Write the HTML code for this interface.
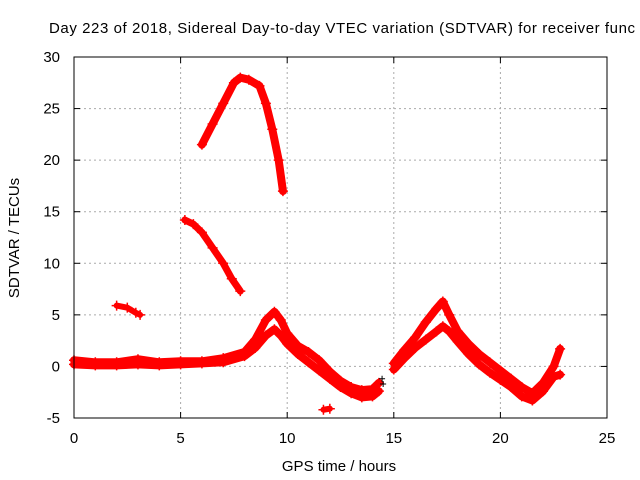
<!DOCTYPE html>
<html><head><meta charset="utf-8"><style>
body{margin:0;background:#fff;overflow:hidden}
svg{display:block;font-family:"Liberation Sans",sans-serif}
</style></head><body>
<svg id="chart" width="640" height="480">
<text x="49" y="33" font-size="15" textLength="586" lengthAdjust="spacing">Day 223 of 2018, Sidereal Day-to-day VTEC variation (SDTVAR) for receiver func</text>
<g id="grid"></g>
<g id="ticks"></g>
<g id="series"></g>
<rect x="74" y="57" width="533" height="361" fill="none" stroke="#000"/>
<text x="339" y="471" font-size="15" text-anchor="middle">GPS time / hours</text>
<text transform="translate(19,238) rotate(-90)" font-size="15" text-anchor="middle">SDTVAR / TECUs</text>
</svg>
<script>
const xTicks=[0,5,10,15,20,25];
const yTicks=[-5,0,5,10,15,20,25,30];
const upperArc=[[6.0,21.5],[6.5,23.5],[7.0,25.5],[7.5,27.5],[7.8,28.0],[8.2,27.8],[8.7,27.2],[9.0,25.5],[9.3,23],[9.6,20],[9.8,17]];
const middleArc=[[5.2,14.2],[5.6,13.8],[6.0,13],[6.5,11.5],[7.0,10],[7.4,8.5],[7.8,7.3]];
const smallSeg=[[2.0,5.9],[2.5,5.7],[2.9,5.2],[3.1,5.0]];
const mainA=[[0,0.6],[1,0.4],[2,0.4],[3,0.7],[4,0.4],[5,0.5],[6,0.5],[7,0.8],[8,1.4],[8.5,2.6],[9,4.5],[9.4,5.3],[9.7,4.5],[10,3.2],[10.5,2.0],[11,1.4],[11.5,0.6],[12,-0.5],[12.5,-1.4],[13,-2.0],[13.5,-2.3],[14,-2.2],[14.3,-1.6]];
const mainB=[[0,0.2],[1,0.1],[2,0.1],[3,0.2],[4,0.1],[5,0.2],[6,0.3],[7,0.4],[8,1.0],[8.5,1.8],[9,3.0],[9.4,3.6],[9.7,3.0],[10,2.2],[10.5,1.2],[11,0.4],[11.5,-0.4],[12,-1.2],[12.5,-2.0],[13,-2.6],[13.5,-3.0],[14,-2.9],[14.3,-2.4]];
const tinySeg=[[11.7,-4.2],[12.0,-4.1]];
const afternoonA=[[15,0.3],[15.5,1.6],[16,2.8],[16.5,4.3],[17,5.6],[17.3,6.3],[17.6,5.0],[18,3.4],[18.5,2.2],[19,1.2],[19.5,0.4],[20,-0.4],[20.5,-1.2],[21,-2.0],[21.5,-2.6],[22,-1.6],[22.5,0],[22.8,1.7]];
const afternoonB=[[15,-0.3],[15.5,0.8],[16,1.8],[16.5,2.6],[17,3.4],[17.3,3.9],[17.6,3.4],[18,2.4],[18.5,1.2],[19,0.2],[19.5,-0.6],[20,-1.3],[20.5,-2.0],[21,-2.9],[21.5,-3.3],[22,-2.4],[22.5,-1.0],[22.8,-0.8]];
const blackMark=[[14.45,-1.2],[14.5,-1.7]];

const NS="http://www.w3.org/2000/svg";
const X=v=>74+v*(533/25);
const Y=v=>418-(v+5)*(361/35);
const grid=document.getElementById('grid'),ticks=document.getElementById('ticks'),ser=document.getElementById('series');
function mk(t,a,p){const e=document.createElementNS(NS,t);for(const k in a)e.setAttribute(k,a[k]);p.appendChild(e);return e;}
xTicks.forEach(v=>{
  if(v>0&&v<25){const g=mk('line',{x1:X(v),x2:X(v),y1:57,y2:418,stroke:'#aaa','stroke-dasharray':'2,3'},grid);
  
  }
  const t=mk('text',{x:X(v),y:443,'font-size':15,'text-anchor':'middle'},ticks);t.textContent=v;
  
  
  mk('line',{x1:X(v),x2:X(v),y1:418,y2:412,stroke:'#000'},ticks);
  mk('line',{x1:X(v),x2:X(v),y1:57,y2:63,stroke:'#000'},ticks);
});
yTicks.forEach(v=>{
  if(v>-5&&v<30){const g=mk('line',{x1:74,x2:607,y1:Y(v),y2:Y(v),stroke:'#aaa','stroke-dasharray':'2,3'},grid);
  
  }
  const t=mk('text',{x:60,y:Y(v)+5,'font-size':15,'text-anchor':'end'},ticks);t.textContent=v;
  
  
  mk('line',{x1:74,x2:80,y1:Y(v),y2:Y(v),stroke:'#000'},ticks);
  mk('line',{x1:607,x2:601,y1:Y(v),y2:Y(v),stroke:'#000'},ticks);
});
function draw(arr,name,w,col){
  const pts=arr.map(p=>X(p[0])+','+Y(p[1])).join(' ');
  const pl=mk('polyline',{points:pts,fill:'none',stroke:col,'stroke-width':w,'stroke-linejoin':'round','stroke-linecap':'round'},ser);
  
  
  arr.forEach(p=>{
    const x=X(p[0]),y=Y(p[1]);
    mk('path',{d:`M${x-5},${y}H${x+5}M${x},${y-5}V${y+5}`,stroke:col,'stroke-width':1.5},ser);
  });
}
draw(upperArc,'series-upper-arc',8,'#f00');
draw(middleArc,'series-middle-arc',7,'#f00');
draw(smallSeg,'series-small-segment',6,'#f00');
draw(mainA,'series-main-upper',8,'#f00');
draw(mainB,'series-main-lower',8,'#f00');
draw(tinySeg,'series-tiny-segment',6,'#f00');
draw(afternoonA,'series-afternoon-upper',8,'#f00');
draw(afternoonB,'series-afternoon-lower',8,'#f00');
blackMark.forEach(p=>{const x=X(p[0]),y=Y(p[1]);
  const m=mk('path',{d:`M${x-3},${y}H${x+3}M${x},${y-3}V${y+3}`,stroke:'#000','stroke-width':1},ser);
  
  });
</script>
</body></html>
